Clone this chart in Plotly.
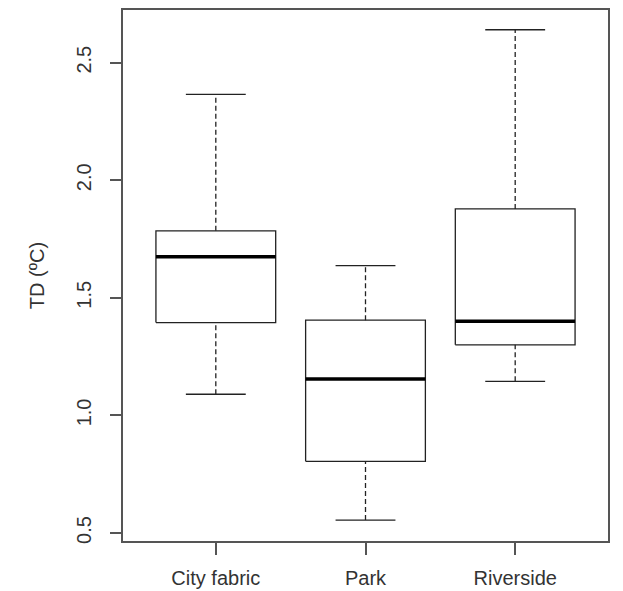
import plotly.graph_objects as go

categories = ["City fabric", "Park", "Riverside"]
whisker_low = [1.09, 0.555, 1.145]
q1 = [1.395, 0.805, 1.30]
median = [1.675, 1.155, 1.40]
q3 = [1.785, 1.405, 1.878]
whisker_high = [2.365, 1.637, 2.64]
y_ticks = [0.5, 1.0, 1.5, 2.0, 2.5]

positions = list(range(1, len(categories) + 1))
box_half = 0.4
staple_half = 0.2
line_col = "#222222"

fig = go.Figure()

for i, p in enumerate(positions):
    # whiskers (dashed)
    fig.add_trace(go.Scatter(x=[p, p], y=[q3[i], whisker_high[i]], mode="lines",
                             line=dict(color=line_col, width=1.3, dash="5px,3px"),
                             showlegend=False, hoverinfo="skip"))
    fig.add_trace(go.Scatter(x=[p, p], y=[whisker_low[i], q1[i]], mode="lines",
                             line=dict(color=line_col, width=1.3, dash="5px,3px"),
                             showlegend=False, hoverinfo="skip"))
    # staples
    fig.add_trace(go.Scatter(x=[p - staple_half, p + staple_half], y=[whisker_high[i]] * 2,
                             mode="lines", line=dict(color=line_col, width=1.3),
                             showlegend=False, hoverinfo="skip"))
    fig.add_trace(go.Scatter(x=[p - staple_half, p + staple_half], y=[whisker_low[i]] * 2,
                             mode="lines", line=dict(color=line_col, width=1.3),
                             showlegend=False, hoverinfo="skip"))
    # box
    fig.add_trace(go.Scatter(x=[p - box_half, p + box_half, p + box_half, p - box_half, p - box_half],
                             y=[q1[i], q1[i], q3[i], q3[i], q1[i]], mode="lines",
                             line=dict(color=line_col, width=1.3),
                             showlegend=False, hoverinfo="skip"))
    # median
    fig.add_trace(go.Scatter(x=[p - box_half, p + box_half], y=[median[i]] * 2, mode="lines",
                             line=dict(color="black", width=3.5),
                             showlegend=False, hoverinfo="skip"))

font = dict(family="Liberation Sans, Arial, sans-serif", size=20, color="#333333")

fig.update_layout(
    width=615, height=583,
    margin=dict(l=115, r=15, t=0, b=50),
    paper_bgcolor="white", plot_bgcolor="white",
    font=font,
    showlegend=False,
)
fig.update_xaxes(
    range=[0.38, 3.62], tickvals=positions, ticktext=categories,
    showgrid=False, zeroline=False,
    showline=True, mirror=True, linecolor="#555555", linewidth=1.5,
    ticks="outside", ticklen=12, tickcolor="#555555", tickwidth=1.5,
    ticklabelstandoff=6,
)
fig.update_yaxes(
    range=[0.466, 2.724], tickvals=y_ticks, tickformat=".1f", tickangle=-90,
    showgrid=False, zeroline=False,
    showline=True, mirror=True, linecolor="#555555", linewidth=1.5,
    ticks="outside", ticklen=11, tickcolor="#555555", tickwidth=1.5,
    ticklabelstandoff=11,
    title=dict(text="TD (ºC)", standoff=23, font=font),
)

fig.write_html("out.html")
